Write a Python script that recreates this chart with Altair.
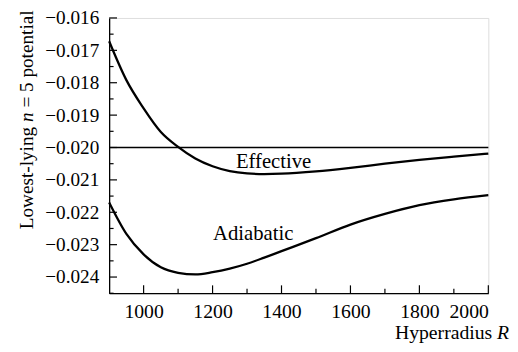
import altair as alt
import pandas as pd

# ---- data ----
R = [900, 950, 1000, 1050, 1100, 1150, 1200, 1250, 1300, 1350, 1400, 1500, 1600, 1700, 1800, 1900, 2000]
effective = [-0.01672, -0.01792, -0.01879, -0.01952, -0.01998, -0.02034, -0.02058, -0.02073, -0.02080,
             -0.02082, -0.02081, -0.02074, -0.02063, -0.02050, -0.02038, -0.02028, -0.02019]
adiabatic = [-0.02170, -0.02267, -0.02330, -0.02370, -0.02387, -0.02392, -0.02385, -0.02374, -0.02359,
             -0.02340, -0.02320, -0.02280, -0.02238, -0.02205, -0.02178, -0.02160, -0.02147]
ref_level = [-0.020]
x_major = [1000, 1200, 1400, 1600, 1800, 2000]
x_minor = [1100, 1300, 1500, 1700, 1900]
y_major = [-0.024, -0.023, -0.022, -0.021, -0.020, -0.019, -0.018, -0.017, -0.016]
y_minor = [-0.0245, -0.0235, -0.0225, -0.0215, -0.0205, -0.0195, -0.0185, -0.0175, -0.0165]
curve_labels = ["Effective", "Adiabatic"]
label_R = [1377, 1318]
label_v = [-0.02062, -0.02287]

W, H = 385, 279.5
FONT = "Liberation Serif"

df = pd.DataFrame({
    "R": R * 2,
    "v": effective + adiabatic,
    "series": ["Effective"] * len(R) + ["Adiabatic"] * len(R),
})

xscale = alt.Scale(domain=[900, 2000], nice=False, zero=False)
yscale = alt.Scale(domain=[-0.0245, -0.016], nice=False, zero=False)
xaxis = alt.Axis(
    values=x_major, format="d", title=None, ticks=False, tickSize=0, grid=False,
    labelFont=FONT, labelFontSize=20, labelColor="black", labelPadding=9,
    domainColor="black", domainWidth=1.3)
yaxis = alt.Axis(
    values=y_major, format=".3f", title=None, ticks=False, tickSize=0, grid=False,
    labelFont=FONT, labelFontSize=19.5, labelColor="black", labelPadding=10.5,
    domainColor="black", domainWidth=1.3)


def X(f="R"):
    return alt.X(f"{f}:Q", scale=xscale, axis=xaxis)


def Y(f="v"):
    return alt.Y(f"{f}:Q", scale=yscale, axis=yaxis)


lines = alt.Chart(df).mark_line(color="black", strokeWidth=2.3, interpolate="monotone").encode(
    x=X(), y=Y(), detail="series:N",
)

ref = alt.Chart(pd.DataFrame({"v": ref_level})).mark_rule(color="black", strokeWidth=1.3).encode(
    y=Y(), x=alt.value(0), x2=alt.value(W),
)

ytick_major = alt.Chart(pd.DataFrame({"v": y_major})).mark_rule(color="black", strokeWidth=1.2).encode(
    y=Y(), x=alt.value(0), x2=alt.value(8))
ytick_minor = alt.Chart(pd.DataFrame({"v": y_minor})).mark_rule(color="black", strokeWidth=1.2).encode(
    y=Y(), x=alt.value(0), x2=alt.value(4.5))
xtick_major = alt.Chart(pd.DataFrame({"R": x_major})).mark_rule(color="black", strokeWidth=1.2).encode(
    x=X(), y=alt.value(H), y2=alt.value(H - 8))
xtick_minor = alt.Chart(pd.DataFrame({"R": x_minor})).mark_rule(color="black", strokeWidth=1.2).encode(
    x=X(), y=alt.value(H), y2=alt.value(H - 4.5))

labels = alt.Chart(pd.DataFrame({"R": label_R, "v": label_v, "t": curve_labels})).mark_text(
    font=FONT, fontSize=21, color="black", align="center", baseline="alphabetic").encode(
    x=X(), y=Y(), text="t:N",
)


def piece(txt, x, y, italic=False, angle=0, align="left", size=20):
    kw = dict(font=FONT, fontSize=size, color="black", align=align, baseline="alphabetic")
    if italic:
        kw["fontStyle"] = "italic"
    if angle:
        kw["angle"] = angle
    return alt.Chart(pd.DataFrame({"t": [txt]})).mark_text(**kw).encode(
        text="t:N", x=alt.value(x), y=alt.value(y))


ytitle = [
    piece("Lowest-lying", -77.4, 214.5, angle=270, size=19.5),
    piece("n", -77.4, 105.6, italic=True, angle=270, size=19.5),
    piece("= 5 potential", -77.4, 91.0, angle=270, size=19.5),
]
xtitle = [
    piece("Hyperradius", 389.0, 326.2, align="right"),
    piece("R", 406.0, 326.2, italic=True, align="right"),
]

chart = alt.layer(
    lines, ref, ytick_major, ytick_minor, xtick_major, xtick_minor, labels, *ytitle, *xtitle
).properties(
    width=W, height=H,
    autosize=alt.AutoSizeParams(type="none"),
    padding={"left": 102.7, "top": 7.5, "right": 22, "bottom": 54},
).configure_view(stroke=None).configure(background="white")

chart.save("out.html", embed_options={"renderer": "svg", "actions": False})
